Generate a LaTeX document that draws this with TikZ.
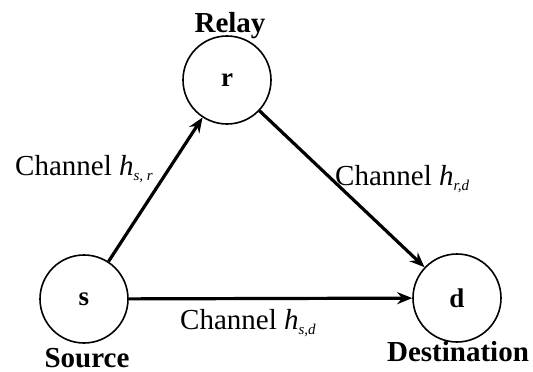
\documentclass[tikz,border=0pt]{standalone}
\usepackage{fontspec}
\setmainfont{Liberation Serif}
\usetikzlibrary{arrows.meta}
\tikzset{
  circ/.style={circle,draw,line width=1.6pt,minimum size=88pt,inner sep=0pt,
    font=\fontsize{27}{29}\selectfont\bfseries},
  lbl/.style={anchor=base,inner sep=0pt,font=\fontsize{29}{31}\selectfont\bfseries},
  chan/.style={anchor=base west,inner sep=0pt,font=\fontsize{29}{31}\selectfont},
  arr/.style={line width=3.2pt,-{Stealth[length=15pt,width=12pt]}}
}
\newcommand{\hsub}[1]{\textit{h}\raisebox{-5pt}{\fontsize{15}{16}\selectfont\textit{#1}}}
\begin{document}
\begin{tikzpicture}[x=1pt,y=-1pt]
\useasboundingbox (0,0) rectangle (533,372);
\node[circ] (r) at (227,80) {r};
\node[circ] (s) at (84,299) {s};
\node[circ] (d) at (457,298) {d};
\node[lbl] (relay) at (230,32) {Relay};
\node[lbl] (source) at (87,367) {Source};
\node[lbl] (dest) at (458,361) {Destination};
\node[chan] (lsr) at (15,175) {Channel \hsub{s, r}};
\node[chan] (lrd) at (335,185) {Channel \hsub{r,d}};
\node[chan] (lsd) at (180,329) {Channel \hsub{s,d}};
\draw[arr] (s) -- (r);
\draw[arr] (r) -- (d);
\draw[arr] (s) -- (d);
\end{tikzpicture}
\end{document}
